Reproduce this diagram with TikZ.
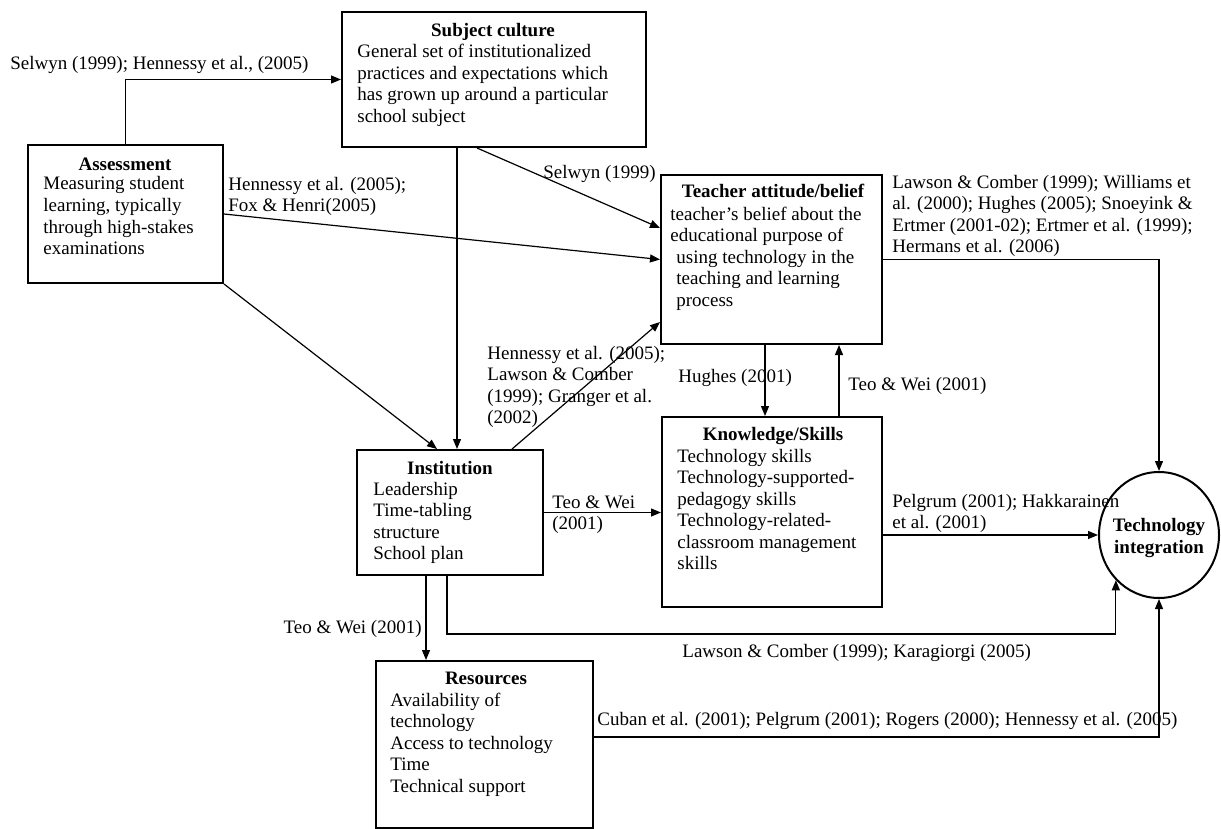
\documentclass[tikz,border=0pt]{standalone}
\usepackage{fontspec}
\setmainfont{Liberation Serif}
\usetikzlibrary{arrows.meta,calc,fit,shapes.geometric}
\newcommand\myfnt{\fontsize{9.5}{10.75}\selectfont}
\begin{document}
\begin{tikzpicture}[x=0.5pt,y=-0.5pt,
  every node/.style={font=\myfnt, inner sep=0pt},
  box/.style={draw, line width=1pt, inner sep=0pt},
  ttl/.style={anchor=base, font=\myfnt\bfseries},
  txt/.style={anchor=base west, align=left},
  lbl/.style={anchor=base west, align=left},
  conn/.style={line width=0.6pt},
  arr/.style={conn, -{Triangle[length=5pt,width=4pt]}}]
\useasboundingbox (0,0) rectangle (1221,829);

% Subject culture
\node[box, fit={(342,12) (646,147)}] (S) {};
\node[ttl] (St) at (493,37) {Subject culture};
\node[txt] (Sb) at (357,122.5) {General set of institutionalized\\practices and expectations which\\has grown up around a particular\\school subject};

% Assessment
\node[box, fit={(28,145) (223,283)}] (A) {};
\node[ttl] (At) at (125,170) {Assessment};
\node[txt] (Ab) at (43,254.5) {Measuring student\\learning, typically\\through high-stakes\\examinations};

% Teacher attitude/belief
\node[box, fit={(661,175) (882,344)}] (T) {};
\node[ttl] (Tt) at (773,198) {Teacher attitude/belief};
\node[txt] (Tb) at (670,306) {teacher’s belief about the\\educational purpose of\\\hspace*{3pt}using technology in the\\\hspace*{3pt}teaching and learning\\\hspace*{3pt}process};

% Knowledge/Skills
\node[box, fit={(662,417) (882,607)}] (K) {};
\node[ttl] (Kt) at (773,440) {Knowledge/Skills};
\node[txt] (Kb) at (677,569.5) {Technology skills\\Technology-supported-\\pedagogy skills\\Technology-related-\\classroom management\\skills};

% Institution
\node[box, fit={(357,450) (543,575)}] (I) {};
\node[ttl] (It) at (450,474) {Institution};
\node[txt] (Ib) at (373,559.5) {Leadership\\Time-tabling\\structure\\School plan};

% Resources
\node[box, fit={(376,661) (593,828)}] (R) {};
\node[ttl] (Rt) at (486,684) {Resources};
\node[txt] (Rb) at (390,792) {Availability of\\technology\\Access to technology\\Time\\Technical support};

% Technology integration
\node[draw, ellipse, line width=1pt, minimum width=60pt, minimum height=63pt] (C) at (1159,535) {};
\node[font=\myfnt\bfseries, align=center] (Ct) at (1159,538) {Technology\\integration};

% Connectors
\draw[arr] (A.north) |- (S.west);
\draw[arr] ($(S.south)+(-17,0)$) -- ($(T.west)+(0,-31.5)$);
\draw[arr] (A.east) -- (T.west);
\draw[arr] (A.south east) -- ($(I.north)+(-13,0)$);
\draw[arr] ($(S.south)+(-37,0)$) -- ($(I.north)+(7,0)$);
\draw[arr] ($(I.north)+(62,0)$) -- ($(T.west)+(0,62.5)$);
\draw[arr] ($(T.south)+(-6.5,0)$) -- ($(K.north)+(-7,0)$);
\draw[arr] ($(K.north)+(67,0)$) -- ($(T.south)+(67.5,0)$);
\draw[arr] (I.east) -- (I.east -| K.west);
\draw[arr] ($(K.east)+(0,23)$) -- (C.west);
\draw[arr] (T.east) -| (C.north);
\draw[arr] ($(I.south)+(-24,0)$) -- ($(R.north)+(-58.5,0)$);
\draw[arr] ($(I.south)+(-3,0)$) -- ++(0,58) -| (C.south west);
\draw[arr] ($(R.east)+(0,-7.5)$) -| (C.south);

% Labels
\node[lbl] (L1) at (10,70) {Selwyn (1999); Hennessy et al., (2005)};
\node[lbl] (L2) at (228,212) {Hennessy et al. (2005);\\Fox \& Henri(2005)};
\node[lbl] (L3) at (543,178) {Selwyn (1999)};
\node[lbl] (L4) at (892,252.5) {Lawson \& Comber (1999); Williams et\\al. (2000); Hughes (2005); Snoeyink \&\\Ertmer (2001-02); Ertmer et al. (1999);\\Hermans et al. (2006)};
\node[lbl] (L5) at (487,423.5) {Hennessy et al. (2005);\\Lawson \& Comber\\(1999); Granger et al.\\(2002)};
\node[lbl] (L6) at (678,382) {Hughes (2001)};
\node[lbl] (L7) at (848,390) {Teo \& Wei (2001)};
\node[lbl] (L8) at (552,529.5) {Teo \& Wei\\(2001)};
\node[lbl] (L9) at (892,528.5) {Pelgrum (2001); Hakkarainen\\et al. (2001)};
\node[anchor=base east] (L10) at (422,633) {Teo \& Wei (2001)};
\node[lbl] (L11) at (682,657) {Lawson \& Comber (1999); Karagiorgi (2005)};
\node[lbl] (L12) at (597,725) {Cuban et al. (2001); Pelgrum (2001); Rogers (2000); Hennessy et al. (2005)};
\end{tikzpicture}
\end{document}
